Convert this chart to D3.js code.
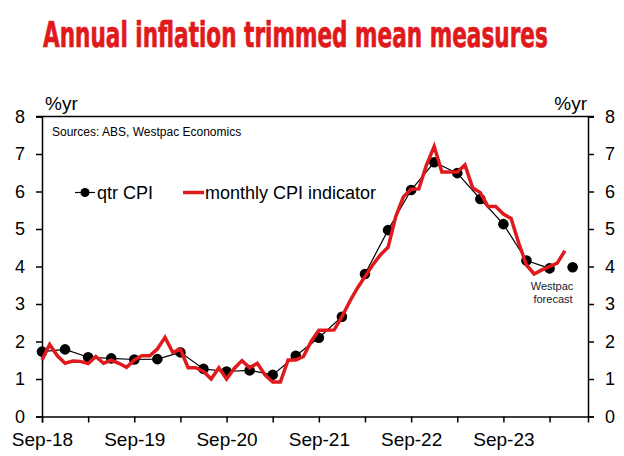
<!DOCTYPE html>
<html>
<head>
<meta charset="utf-8">
<script src="https://cdn.jsdelivr.net/npm/d3@7"></script>
<style>
  body { margin: 0; background: #fff; }
  svg { display: block; font-family: "Liberation Sans", Arial, sans-serif; }
</style>
</head>
<body>
<svg id="chart" width="624" height="456"></svg>
<script>
// months counted from Sep-18 (index 0)
const tickLabels = ["Sep-18", "Sep-19", "Sep-20", "Sep-21", "Sep-22", "Sep-23"];
const qtrMonths = [0, 3, 6, 9, 12, 15, 18, 21, 24, 27, 30, 33, 36, 39, 42, 45, 48, 51, 54, 57, 60, 63, 66];
const qtrCpi = [1.73, 1.79, 1.58, 1.55, 1.52, 1.53, 1.71, 1.27, 1.20, 1.23, 1.11, 1.62, 2.10,
  2.66, 3.80, 4.97, 6.04, 6.78, 6.49, 5.80, 5.13, 4.16, 3.95];
const forecastMonth = [69];
const forecastCpi = [3.98];
const monthlyCpi = [
  1.51, 1.92, 1.62, 1.42, 1.48, 1.47, 1.41, 1.60, 1.42, 1.50, 1.42, 1.31,
  1.51, 1.62, 1.62, 1.80, 2.11, 1.71, 1.79, 1.30, 1.30, 1.20, 1.00, 1.30,
  1.00, 1.28, 1.49, 1.30, 1.42, 1.11, 0.92, 0.92, 1.51, 1.51, 1.60, 2.00,
  2.30, 2.30, 2.31, 2.66, 3.06, 3.42, 3.73, 4.04, 4.31, 4.51, 5.33, 5.86,
  6.06, 6.07, 6.71, 7.20, 6.52, 6.52, 6.52, 6.71, 6.10, 5.97, 5.60, 5.60,
  5.40, 5.28, 4.62, 4.04, 3.80, 3.91, 4.00, 4.09, 4.42
];
const yTicks = [0, 1, 2, 3, 4, 5, 6, 7, 8];

const red = "#e0191c";
const svg = d3.select("#chart");

const x = d3.scaleLinear().domain([0, 71]).range([42, 588]);
const y = d3.scaleLinear().domain([0, 8]).range([416.5, 116.5]);

// title, squeezed to the reference width
const titleG = svg.append("g");
const title = titleG.append("text")
  .attr("x", 0).attr("y", 0)
  .style("font-family", '"Liberation Sans Narrow", "DejaVu Sans Condensed", sans-serif')
  .style("font-weight", "bold").style("font-size", "35px")
  .attr("fill", red).attr("stroke", red).attr("stroke-width", 0.7)
  .text("Annual inflation trimmed mean measures");
const titleLen = title.node().getComputedTextLength();
titleG.attr("transform", `translate(43,47) scale(${505 / titleLen},1)`);

// axes
const left = svg.append("g").attr("transform", `translate(${x(0)},0)`)
  .call(d3.axisLeft(y).tickValues(yTicks).tickSizeOuter(0).tickSize(6).tickPadding(11));
const right = svg.append("g").attr("transform", `translate(${x(71)},0)`)
  .call(d3.axisRight(y).tickValues(yTicks).tickSizeOuter(0).tickSize(6).tickPadding(11));
const bottom = svg.append("g").attr("transform", `translate(0,${y(0)})`)
  .call(d3.axisBottom(x).tickValues(d3.range(0, 71, 6)).tickSizeOuter(0).tickSize(6)
    .tickFormat(d => d % 12 === 0 ? tickLabels[d / 12] : ""));

[left, right, bottom].forEach(g => {
  g.select(".domain").attr("stroke", "#000").attr("stroke-width", 1.5);
  g.selectAll(".tick line").attr("stroke", "#000").attr("stroke-width", 1.5);
  g.selectAll("text").attr("fill", "#000")
    .style("font-family", '"Liberation Sans", Arial, sans-serif');
});
left.selectAll("text").style("font-size", "18px");
right.selectAll("text").style("font-size", "18px");
bottom.selectAll("text").style("font-size", "19px").attr("dy", "1.1em");

// top border
svg.append("line")
  .attr("x1", x(0) - 6).attr("x2", x(71) + 6)
  .attr("y1", y(8)).attr("y2", y(8))
  .attr("stroke", "#000").attr("stroke-width", 1.5);

// unit labels
svg.append("text").attr("x", 45).attr("y", 110).style("font-size", "19px").text("%yr");
svg.append("text").attr("x", 587).attr("y", 110).attr("text-anchor", "end")
  .style("font-size", "19px").text("%yr");

svg.append("text").attr("x", 52).attr("y", 136).style("font-size", "12px")
  .text("Sources: ABS, Westpac Economics");

// qtr CPI
svg.append("path")
  .datum(qtrCpi)
  .attr("fill", "none").attr("stroke", "#000").attr("stroke-width", 1.2)
  .attr("d", d3.line().x((d, i) => x(qtrMonths[i])).y(d => y(d)));
svg.selectAll(".qdot")
  .data(qtrCpi)
  .join("circle")
  .attr("class", "qdot")
  .attr("cx", (d, i) => x(qtrMonths[i])).attr("cy", d => y(d))
  .attr("r", 5.3).attr("fill", "#000");

// monthly indicator
svg.append("path")
  .datum(monthlyCpi)
  .attr("fill", "none").attr("stroke", red).attr("stroke-width", 3.5)
  .attr("stroke-linejoin", "miter")
  .attr("d", d3.line().x((d, i) => x(i)).y(d => y(d)));

// forecast
svg.selectAll(".fdot")
  .data(forecastCpi)
  .join("circle")
  .attr("class", "fdot")
  .attr("cx", (d, i) => x(forecastMonth[i])).attr("cy", d => y(d))
  .attr("r", 5.3).attr("fill", "#000");
svg.append("text").attr("x", 552).attr("y", 290).attr("text-anchor", "middle")
  .style("font-size", "11px").attr("fill", "#1a1a2e").text("Westpac");
svg.append("text").attr("x", 553).attr("y", 303).attr("text-anchor", "middle")
  .style("font-size", "11px").attr("fill", "#1a1a2e").text("forecast");

// legend
const lg = svg.append("g");
lg.append("line").attr("x1", 75).attr("x2", 95).attr("y1", 192.5).attr("y2", 192.5)
  .attr("stroke", "#000").attr("stroke-width", 1.2);
lg.append("circle").attr("cx", 85).attr("cy", 192.5).attr("r", 4.5).attr("fill", "#000");
lg.append("text").attr("x", 97).attr("y", 198.5).style("font-size", "18px").text("qtr CPI");
lg.append("line").attr("x1", 183).attr("x2", 204).attr("y1", 192.5).attr("y2", 192.5)
  .attr("stroke", red).attr("stroke-width", 3.5);
lg.append("text").attr("x", 205).attr("y", 198.5).style("font-size", "18px")
  .text("monthly CPI indicator");
</script>
</body>
</html>
